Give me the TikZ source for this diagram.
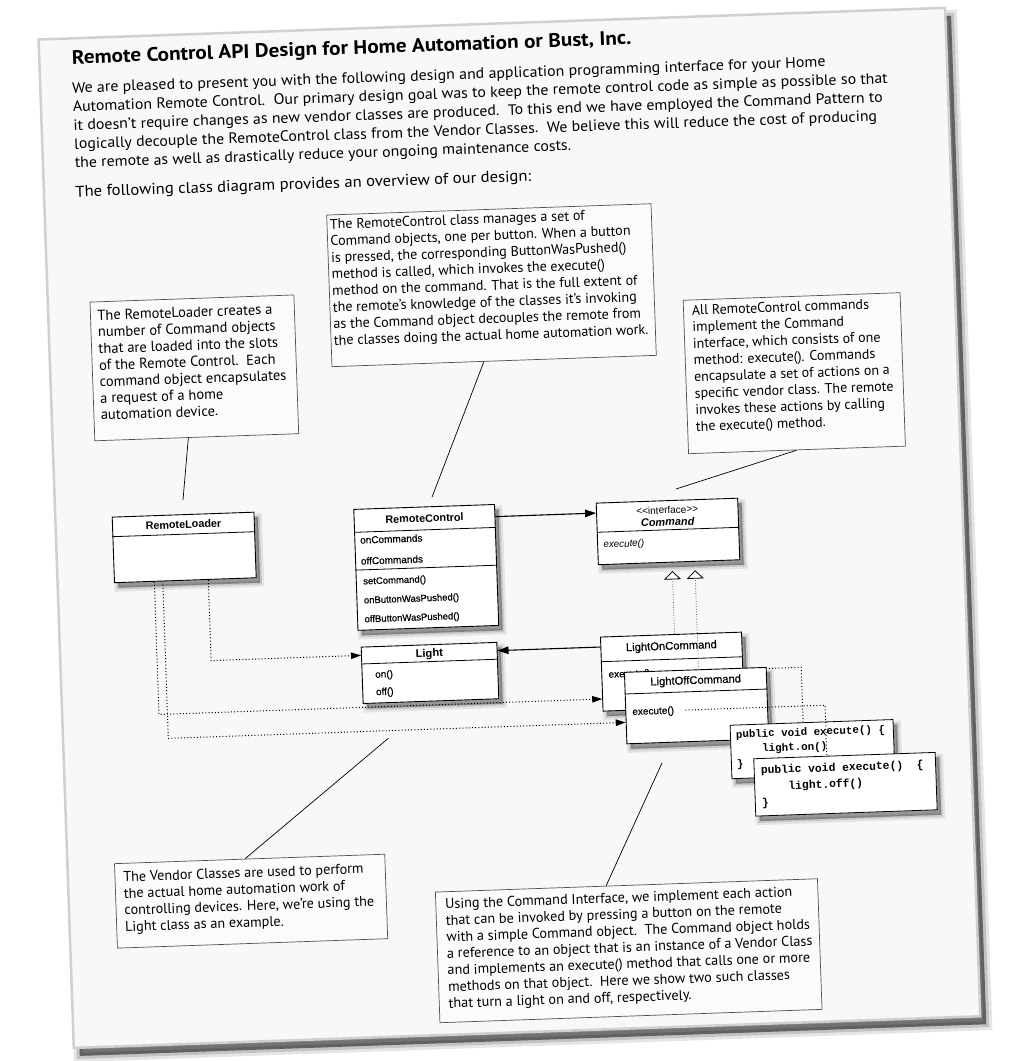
\documentclass[tikz,border=0pt]{standalone}
\usepackage{fontspec}
\setmainfont{PT Sans}
\newfontfamily\introfam{PT Sans}[FakeStretch=1.06]
\newfontfamily\titlefam{PT Sans}[FakeStretch=1.09]
\newfontfamily\clsfont{Liberation Sans}
\newfontfamily\clsmed{Liberation Sans}[FakeBold=0.5]
\newfontfamily\codefont{Liberation Mono}
\usetikzlibrary{arrows.meta,calc}
\definecolor{pagebg}{HTML}{F8F8F8}
\definecolor{pageedge}{HTML}{D0D0D0}
\definecolor{noteedge}{HTML}{505050}
\newcommand\introfont{\introfam\fontsize{15}{18.7}\selectfont}
\newcommand\notefont[1]{\fontsize{#1}{16.6}\selectfont}
\tikzset{
  pagesheet/.style={draw=pageedge, line width=2.5pt, fill=pagebg, inner sep=0pt, anchor=north west,
    preaction={fill=black, draw=black, opacity=0.10, line width=12pt, transform canvas={xshift=6pt,yshift=-8pt}},
    preaction={fill=black, draw=black, opacity=0.15, line width=6pt, transform canvas={xshift=6pt,yshift=-8pt}},
    preaction={fill=black, opacity=0.35, transform canvas={xshift=6pt,yshift=-8pt}}},
  note/.style={draw=noteedge, line width=0.7pt, fill=white!50!pagebg, inner sep=0pt, anchor=north west},
  txt/.style={inner sep=0pt, anchor=base west},
  classbox/.style={draw=black, line width=0.9pt, fill=white, inner sep=0pt, anchor=north west,
    preaction={fill=black, draw=black, opacity=0.08, line width=8pt, transform canvas={xshift=4pt,yshift=-5pt}},
    preaction={fill=black, draw=black, opacity=0.12, line width=3.5pt, transform canvas={xshift=4pt,yshift=-5pt}},
    preaction={fill=black, opacity=0.18, transform canvas={xshift=4pt,yshift=-5pt}}},
  divider/.style={draw=black, line width=0.8pt},
  clshead/.style={inner sep=0pt, anchor=base, font=\clsfont\bfseries\fontsize{10.8}{13}\selectfont},
  clsname/.style={inner sep=0pt, anchor=base, font=\clsmed\fontsize{11.2}{13}\selectfont},
  clsitem/.style={txt, font=\clsmed\fontsize{10}{12}\selectfont},
  clsmeth/.style={txt, font=\clsmed\fontsize{9.5}{12}\selectfont},
  codetxt/.style={txt, font=\codefont\bfseries},
  calloutline/.style={draw=black, line width=0.7pt},
  assoc/.style={line width=1.1pt, -{Triangle[length=11pt,width=7.5pt]}},
  dep/.style={line width=1pt, dash pattern=on 1pt off 2.2pt, -{Triangle[length=10pt,width=6.5pt]}},
  realize/.style={draw=black!65, line width=0.8pt, dash pattern=on 0.8pt off 1.8pt,
    -{Triangle[fill=white, color=black, length=8.5pt, width=17pt, line width=0.8pt]}, shorten >=8.4pt},
  codelink/.style={line width=1pt, dash pattern=on 1pt off 2.2pt}
}
\begin{document}
\begin{tikzpicture}[x=1pt,y=-1pt]
\useasboundingbox (-37.3,-38.3) rectangle (973.7,1022.7);
\begin{scope}[rotate=2, transform shape]
% sheet
\node[pagesheet, minimum width=907pt, minimum height=1009pt] (sheet) at (0,0) {};
% heading
\node[txt, font=\titlefam\bfseries\fontsize{19.5}{22}\selectfont] (title) at (33.8,26.9)
  {Remote Control API Design for Home Automation or Bust, Inc.};
\node[txt] (intro) at (33,55.9) {\parbox[t]{920pt}{\introfont\raggedright
  We are pleased to present you with the following design and application programming interface for your Home\\
  Automation Remote Control.\ \ Our primary design goal was to keep the remote control code as simple as possible so that\\
  it doesn’t require changes as new vendor classes are produced.\ \ To this end we have employed the Command Pattern to\\
  logically decouple the RemoteControl class from the Vendor Classes.\ \ We believe this will reduce the cost of producing\\
  the remote as well as drastically reduce your ongoing maintenance costs.}};
\node[txt, font=\introfam\fontsize{15.7}{18.7}\selectfont] (lead) at (32.5,160) {The following class diagram provides an overview of our design:};

% notes
\node[note, minimum width=204pt, minimum height=138.8pt] (noteA) at (43.1,265.1) {};
\node[txt] (noteAtxt) at (50.2,284) {\parbox[t]{200pt}{\notefont{14.5}\raggedright
  The RemoteLoader creates a\\
  number of Command objects\\
  that are loaded into the slots\\
  of the Remote Control.\ \ Each\\
  command object encapsulates\\
  a request of a home\\
  automation device.}};

\node[note, minimum width=324.5pt, minimum height=151.7pt] (noteB) at (282.7,186.4) {};
\node[txt] (noteBtxt) at (285.8,201) {\parbox[t]{330pt}{\notefont{14.1}\raggedright
  The RemoteControl class manages a set of\\
  Command objects, one per button. When a button\\
  is pressed, the corresponding ButtonWasPushed()\\
  method is called, which invokes the execute()\\
  method on the command. That is the full extent of\\
  the remote’s knowledge of the classes it’s invoking\\
  as the Command object decouples the remote from\\
  the classes doing the actual home automation work.}};

\node[note, minimum width=217pt, minimum height=153.5pt] (noteC) at (636,284) {};
\node[txt] (noteCtxt) at (644.5,299.5) {\parbox[t]{220pt}{\notefont{14}\raggedright
  All RemoteControl commands\\
  implement the Command\\
  interface, which consists of one\\
  method: execute(). Commands\\
  encapsulate a set of actions on a\\
  specific vendor class. The remote\\
  invokes these actions by calling\\
  the execute() method.}};

\node[note, minimum width=270.4pt, minimum height=84.5pt] (noteD) at (48,827.2) {};
\node[txt] (noteDtxt) at (56.6,846) {\parbox[t]{280pt}{\notefont{14.2}\raggedright
  The Vendor Classes are used to perform\\
  the actual home automation work of\\
  controlling devices. Here, we’re using the\\
  Light class as an example.}};

\node[note, minimum width=382.3pt, minimum height=130.7pt] (noteE) at (367.7,866.8) {};
\node[txt] (noteEtxt) at (377.3,884) {\parbox[t]{390pt}{\notefont{14.2}\raggedright
  Using the Command Interface, we implement each action\\
  that can be invoked by pressing a button on the remote\\
  with a simple Command object.\ \ The Command object holds\\
  a reference to an object that is an instance of a Vendor Class\\
  and implements an execute() method that calls one or more\\
  methods on that object.\ \ Here we show two such classes\\
  that turn a light on and off, respectively.}};

% callout leaders
\coordinate (aEnd) at (129.5,466.5);
\coordinate (bEnd) at (378.5,472.2);
\coordinate (cEnd) at (622.6,472.7);
\coordinate (dEnd) at (326.4,711.8);
\coordinate (eEnd) at (599,746.1);
\draw[calloutline] ($(noteA.south west)+(93.9,0)$) -- (aEnd);
\draw[calloutline] ($(noteB.south west)+(152.3,0)$) -- (bEnd);
\draw[calloutline] ($(noteC.south west)+(108.5,0)$) -- (cEnd);
\draw[calloutline] ($(noteD.north west)+(131,0)$) -- (dEnd);
\draw[calloutline] ($(noteE.north west)+(171.2,0)$) -- (eEnd);

% class boxes
\node[classbox, minimum width=141.8pt, minimum height=65.6pt] (loader) at (57.7,480.7) {};
\draw[divider] ($(loader.north west)+(0,20)$) -- ($(loader.north east)+(0,20)$);
\node[clshead] (loaderName) at ($(loader.north)+(0,14)$) {RemoteLoader};

\node[classbox, minimum width=140.8pt, minimum height=121pt] (rc) at (299.4,481.4) {};
\draw[divider] ($(rc.north west)+(0,23.4)$) -- ($(rc.north east)+(0,23.4)$);
\draw[divider] ($(rc.north west)+(0,61.2)$) -- ($(rc.north east)+(0,61.2)$);
\node[clshead] (rcName) at ($(rc.north)+(0,15.6)$) {RemoteControl};
\node[clsitem] (rcA1) at ($(rc.north west)+(5.6,34.9)$) {onCommands};
\node[clsitem] (rcA2) at ($(rc.north west)+(5.6,55.9)$) {offCommands};
\node[clsmeth] (rcM1) at ($(rc.north west)+(7.2,75.8)$) {setCommand()};
\node[clsmeth] (rcM2) at ($(rc.north west)+(7.2,94.8)$) {onButtonWasPushed()};
\node[clsmeth] (rcM3) at ($(rc.north west)+(7.2,113.7)$) {offButtonWasPushed()};

\node[classbox, minimum width=141.5pt, minimum height=61.6pt] (cmd) at (541.9,483.6) {};
\draw[divider] ($(cmd.north west)+(0,29.6)$) -- ($(cmd.north east)+(0,29.6)$);
\node[inner sep=0pt, anchor=base, font=\clsfont\fontsize{10}{12}\selectfont] (cmdSt) at ($(cmd.north)+(0,13.4)$) {<{}<interface>{}>};
\node[inner sep=0pt, anchor=base, font=\clsfont\bfseries\itshape\fontsize{10.9}{13}\selectfont] (cmdName) at ($(cmd.north)+(0,25.5)$) {Command};
\node[txt, font=\clsfont\itshape\fontsize{9.8}{12}\selectfont] (cmdExec) at ($(cmd.north west)+(6.1,45.4)$) {execute()};

\node[classbox, minimum width=135.7pt, minimum height=56.4pt] (light) at (302,619.3) {};
\draw[divider] ($(light.north west)+(0,17.3)$) -- ($(light.north east)+(0,17.3)$);
\node[inner sep=0pt, anchor=base, font=\clsfont\bfseries\fontsize{11.2}{13}\selectfont] (lightName) at ($(light.north)+(0,12.7)$) {Light};
\node[clsitem] (lightOn) at ($(light.north west)+(13.3,31.6)$) {on()};
\node[clsitem] (lightOff) at ($(light.north west)+(13.5,49)$) {off()};

% LightOnCommand
\node[classbox, minimum width=141.1pt, minimum height=74.1pt] (lon) at (541.5,617.6) {};
\draw[divider] ($(lon.north west)+(0,25.1)$) -- ($(lon.north east)+(0,25.1)$);
\node[clsname] (lonName) at ($(lon.north)+(0,15.5)$) {LightOnCommand};
\node[clsitem] (lonExec) at ($(lon.north west)+(7,41.4)$) {execute()};
\draw[realize] ($(lon.north west)+(74.5,0)$) -- ($(cmd.south west)+(74.1,0)$);

% link from LightOnCommand to its code
\coordinate (b4) at (741.5,655.3);
\coordinate (c1top) at (741.5,710.3);
\draw[codelink] ($(lon.north east)+(0,37.7)$) -- (b4) -- (c1top);

% LightOffCommand
\node[classbox, minimum width=141.8pt, minimum height=71.5pt] (loff) at (564.2,653.7) {};
\draw[divider] ($(loff.north west)+(0,22.1)$) -- ($(loff.north east)+(0,22.1)$);
\node[clsname] (loffName) at ($(loff.north)+(0,14.5)$) {LightOffCommand};
\node[clsitem] (loffExec) at ($(loff.north west)+(6.8,43.4)$) {execute()};
\draw[realize] ($(loff.north west)+(74.6,0)$) -- ($(cmd.south west)+(96.9,0)$);

% code of LightOnCommand
\node[classbox, line width=0.8pt, minimum width=163pt, minimum height=53.5pt] (code1) at (668,710.3) {};
\node[codetxt] (code1txt) at ($(code1.north west)+(5.7,13.4)$) {\parbox[t]{160pt}{\fontsize{10.8}{14.7}\selectfont
  public void execute() \{\\\phantom{xxxx}light.on()\\\}}};

% code of LightOffCommand
\node[classbox, line width=0.8pt, minimum width=181.5pt, minimum height=57.4pt] (code2) at (690.5,744.6) {};
\node[codetxt] (code2txt) at ($(code2.north west)+(6.9,15.8)$) {\parbox[t]{178pt}{\fontsize{11.3}{16.3}\selectfont
  public void execute()\ \ \{\\\phantom{xxxx}light.off()\\\}}};

% link from LightOffCommand to its code
\coordinate (b5) at (764,694);
\draw[codelink] ($(loff.north west)+(60,40.3)$) -- (b5) -- ($(code2.north west)+(73.5,0)$);

% associations
\draw[assoc] ($(rc.north east)+(0,12.6)$) -- ($(cmd.north west)+(0,10.4)$);
\draw[assoc] ($(lon.north west)+(0,10.4)$) -- ($(light.north east)+(0,8.7)$);

% dependencies from the loader
\coordinate (b1) at (152,628);
\coordinate (b2) at (98,680);
\coordinate (b3) at (106.5,704.2);
\draw[dep] ($(loader.south west)+(94.3,0)$) -- (b1) -- ($(light.north west)+(0,8.7)$);
\draw[dep] ($(loader.south west)+(40.3,0)$) -- (b2) -- ($(lon.north west)+(0,62.4)$);
\draw[dep] ($(loader.south west)+(48.8,0)$) -- (b3) -- ($(loff.north west)+(0,50.5)$);

\end{scope}
\end{tikzpicture}
\end{document}
